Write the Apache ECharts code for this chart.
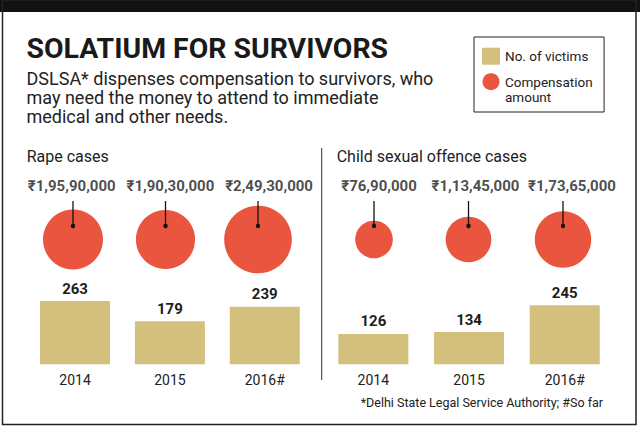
<!DOCTYPE html>
<html>
<head>
<meta charset="utf-8">
<script src="https://cdn.jsdelivr.net/npm/echarts@6/dist/echarts.min.js"></script>
<style>
html,body{margin:0;padding:0;background:#fff;}
#chart{width:640px;height:429px;}
</style>
</head>
<body>
<div id="chart"></div>
<script>
// ---- data ----
const years = ['2014', '2015', '2016#'];
const rapeVictims = [263, 179, 239];
const childVictims = [126, 134, 245];
const rapeAmounts = [19590000, 19030000, 24930000];
const childAmounts = [7690000, 11345000, 17365000];
const panelTitles = ['Rape cases', 'Child sexual offence cases'];
const legendNames = ['No. of victims', 'Compensation amount'];
const titleText = 'SOLATIUM FOR SURVIVORS';
const subtitleText = 'DSLSA* dispenses compensation to survivors, who\nmay need the money to attend to immediate\nmedical and other needs.';
const footnoteText = '*Delhi State Legal Service Authority; #So far';

// ---- styling ----
const FONT = 'Roboto, "Noto Sans", sans-serif';
const BAR_COLOR = '#d4c07d';
const CIRCLE_COLOR = '#e9553e';
const INK = '#1d1d1d';
const RADIUS_K = 30 / Math.sqrt(19590000); // px radius per sqrt(rupee)

function inr(n) {
  const s = String(n);
  const last3 = s.slice(-3);
  let rest = s.slice(0, -3);
  if (rest) rest = rest.replace(/\B(?=(\d{2})+(?!\d))/g, ',') + ',';
  return '₹' + rest + last3;
}
const pairs = arr => arr.map((v, i) => [i, v]);

const chart = echarts.init(document.getElementById('chart'), null, {renderer: 'svg'});

const singleBase = {
  type: 'category', data: years, boundaryGap: true,
  axisLine: {show: false}, axisTick: {show: false}, axisLabel: {show: false},
  splitLine: {show: false}, splitArea: {show: false}, axisPointer: {show: false}
};

function leaderRender(params, api) {
  const pt = api.coord([api.value(0)]);
  const x = pt[0], cy = pt[1];
  return {
    type: 'group',
    children: [
      {type: 'line', shape: {x1: x, y1: cy - 38.5, x2: x, y2: cy - 13.5},
       style: {stroke: '#111', lineWidth: 1.3}},
      {type: 'circle', shape: {cx: x, cy: cy - 13.5, r: 2.2}, style: {fill: '#111'}}
    ]
  };
}

const barLabel = {
  show: true, position: 'top', distance: 5,
  fontFamily: FONT, fontWeight: 'bold', fontSize: 15, color: INK
};
const amountLabel = {
  show: true, position: 'inside',
  formatter: p => inr(p.value[1]),
  fontFamily: FONT, fontWeight: 'bold', fontSize: 15, color: INK
};
const xAxisBase = {
  type: 'category', data: years,
  axisLine: {show: false}, axisTick: {show: false},
  axisLabel: {color: '#222', fontFamily: FONT, fontSize: 14, margin: 8.6}
};

const option = {
  animation: false,
  backgroundColor: '#fff',
  textStyle: {fontFamily: FONT},
  legend: {
    left: 474, top: 37, orient: 'vertical',
    data: [{name: legendNames[0], icon: 'rect'}, {name: legendNames[1], icon: 'circle'}],
    formatter: name => name === legendNames[1] ? '\nCompensation\namount' : name,
    itemWidth: 18, itemHeight: 17, itemGap: -5.5,
    padding: [10.7, 11.4, 7.8, 8],
    borderColor: '#222', borderWidth: 1,
    selectedMode: false,
    textStyle: {fontFamily: FONT, fontSize: 13.5, color: '#222', lineHeight: 15}
  },
  grid: [
    {left: 27.6, width: 284.6, top: 292.1, height: 72.2, outerBoundsMode: 'none'},
    {left: 325.5, width: 287.1, top: 292.1, height: 72.2, outerBoundsMode: 'none'}
  ],
  xAxis: [
    Object.assign({gridIndex: 0}, xAxisBase),
    Object.assign({gridIndex: 1}, xAxisBase)
  ],
  yAxis: [
    {gridIndex: 0, type: 'value', min: 0, max: 300, show: false},
    {gridIndex: 1, type: 'value', min: 0, max: 300, show: false}
  ],
  singleAxis: [
    Object.assign({left: 26.75, width: 277.5, top: 229.5, height: 20}, singleBase),
    Object.assign({left: 326.75, width: 283.5, top: 229.5, height: 20}, singleBase),
    Object.assign({left: 22.4, width: 296, top: 176.3, height: 20}, singleBase),
    Object.assign({left: 330.75, width: 289.5, top: 176.3, height: 20}, singleBase)
  ],
  series: [
    {name: legendNames[0], type: 'bar', xAxisIndex: 0, yAxisIndex: 0, data: rapeVictims,
     barWidth: 70, itemStyle: {color: BAR_COLOR}, label: barLabel, silent: true},
    {name: legendNames[0], type: 'bar', xAxisIndex: 1, yAxisIndex: 1, data: childVictims,
     barWidth: 70, itemStyle: {color: BAR_COLOR}, label: barLabel, silent: true},
    {name: legendNames[1], type: 'scatter', coordinateSystem: 'singleAxis', singleAxisIndex: 0,
     data: pairs(rapeAmounts), symbol: 'circle',
     symbolSize: v => 2 * RADIUS_K * Math.sqrt(v[1]),
     itemStyle: {color: CIRCLE_COLOR, opacity: 1}, silent: true},
    {name: legendNames[1], type: 'scatter', coordinateSystem: 'singleAxis', singleAxisIndex: 1,
     data: pairs(childAmounts), symbol: 'circle',
     symbolSize: v => 2 * RADIUS_K * Math.sqrt(v[1]),
     itemStyle: {color: CIRCLE_COLOR, opacity: 1}, silent: true},
    {name: 'leader-rape', type: 'custom', coordinateSystem: 'singleAxis', singleAxisIndex: 0,
     data: pairs(rapeAmounts), renderItem: leaderRender, silent: true, z: 5},
    {name: 'leader-child', type: 'custom', coordinateSystem: 'singleAxis', singleAxisIndex: 1,
     data: pairs(childAmounts), renderItem: leaderRender, silent: true, z: 5},
    {name: 'amount-rape', type: 'scatter', coordinateSystem: 'singleAxis', singleAxisIndex: 2,
     data: pairs(rapeAmounts), symbolSize: 0, label: amountLabel, silent: true},
    {name: 'amount-child', type: 'scatter', coordinateSystem: 'singleAxis', singleAxisIndex: 3,
     data: pairs(childAmounts), symbolSize: 0, label: amountLabel, silent: true}
  ],
  graphic: [
    {type: 'rect', shape: {x: 0, y: 0, width: 640, height: 12}, style: {fill: '#111'}, silent: true},
    {type: 'rect', shape: {x: 2.5, y: 0, width: 633.5, height: 424.5},
     style: {fill: null, stroke: '#222', lineWidth: 1.5}, silent: true},
    {type: 'text', x: 26.5, y: 48.4, style: {text: titleText, fill: '#1a1a1a',
     font: 'bold 28.4px ' + FONT, textAlign: 'left', textVerticalAlign: 'middle'}},
    {type: 'text', x: 26.5, y: 68.4, style: {text: subtitleText, fill: '#222',
     font: '18px ' + FONT, lineHeight: 19.2, textAlign: 'left', textVerticalAlign: 'top'}},
    {type: 'text', x: 26.7, y: 156, style: {text: panelTitles[0], fill: '#222',
     font: '16px ' + FONT, textAlign: 'left', textVerticalAlign: 'middle'}},
    {type: 'text', x: 336.7, y: 156, style: {text: panelTitles[1], fill: '#222',
     font: '16px ' + FONT, textAlign: 'left', textVerticalAlign: 'middle'}},
    {type: 'line', shape: {x1: 321.7, y1: 148, x2: 321.7, y2: 380},
     style: {stroke: '#333', lineWidth: 1}, silent: true},
    {type: 'text', x: 360.7, y: 402.3, style: {text: footnoteText, fill: '#222',
     font: '12.5px ' + FONT, textAlign: 'left', textVerticalAlign: 'middle'}}
  ]
};
chart.setOption(option);
</script>
</body>
</html>
